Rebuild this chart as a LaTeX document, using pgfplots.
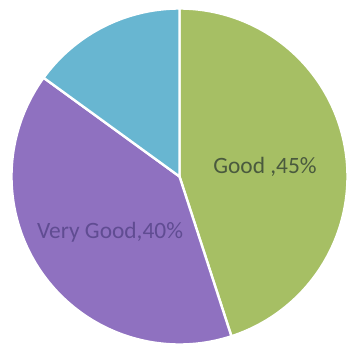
\documentclass[border=0pt]{standalone}
\usepackage{pgfplots}
\pgfplotsset{compat=1.18}
\usepgfplotslibrary{polar}
\usetikzlibrary{calc}
\usepackage{fontspec}
\setmainfont{Carlito}
\definecolor{cgood}{RGB}{166,191,100}
\definecolor{cvgood}{RGB}{143,113,192}
\definecolor{cother}{RGB}{104,182,209}
\definecolor{tgood}{RGB}{74,90,62}
\definecolor{tvgood}{RGB}{96,76,146}
% shares in percent
\def\vGood{45}
\def\vVeryGood{40}
\def\vOther{15}
\begin{document}
\begin{tikzpicture}
\pgfmathsetmacro{\aA}{90}
\pgfmathsetmacro{\aB}{90-3.6*\vGood}
\pgfmathsetmacro{\aC}{\aB-3.6*\vVeryGood}
\pgfmathsetmacro{\aD}{\aC-3.6*\vOther}
\begin{polaraxis}[hide axis, scale only axis, width=336bp, height=336bp, ymin=0, ymax=1, clip=false]
\addplot[draw=white, line width=2.4pt, fill=cgood, domain=\aB:\aA, samples=120] {1} -- (axis cs:0,0) -- cycle;
\addplot[draw=white, line width=2.4pt, fill=cvgood, domain=\aC:\aB, samples=120] {1} -- (axis cs:0,0) -- cycle;
\addplot[draw=white, line width=2.4pt, fill=cother, domain=\aD:\aC, samples=60] {1} -- (axis cs:0,0) -- cycle;
\node[text=tgood, font=\fontsize{23.5}{26}\selectfont] at (axis cs:6.3,0.512) {Good ,45\%};
\node[text=tvgood, font=\fontsize{23.5}{26}\selectfont] at (axis cs:218.6,0.529) {Very Good,40\%};
\coordinate (c) at (axis cs:0,0);
\coordinate (r) at (axis cs:0,1);
\end{polaraxis}
\pgfresetboundingbox
\path let \p1=(c), \p2=(r), \n1={veclen(\x2-\x1,\y2-\y1)/168} in (\x1-179.5*\n1, \y1-174.5*\n1) rectangle (\x1+167.5*\n1, \y1+176.5*\n1);
\end{tikzpicture}
\end{document}
